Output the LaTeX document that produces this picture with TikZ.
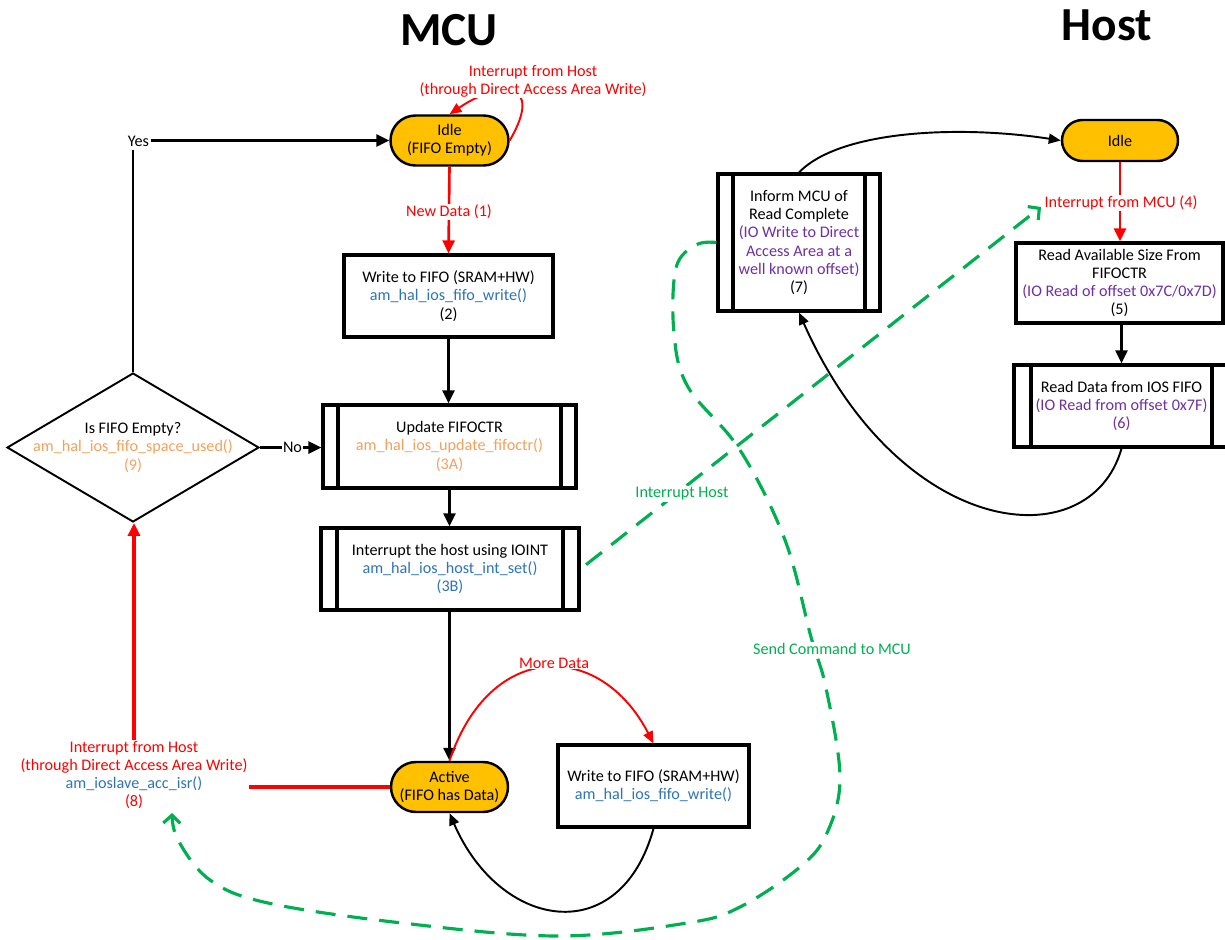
\documentclass[tikz,border=0pt]{standalone}
\usepackage{fontspec}
\setmainfont{Carlito}
\usetikzlibrary{arrows.meta,shapes.geometric}
\definecolor{orgfill}{HTML}{FFC000}
\definecolor{fnblue}{HTML}{2E75B6}
\definecolor{fnorange}{HTML}{F4A15D}
\definecolor{iopurple}{HTML}{7030A0}
\definecolor{sigred}{HTML}{FF0000}
\definecolor{cmdgreen}{HTML}{00B050}
\newcommand{\bodyfont}{\fontsize{9.2}{10.4}\selectfont}
\newcommand{\titlefont}{\fontsize{27}{30}\selectfont\bfseries}
\begin{document}
\begin{tikzpicture}[x=0.02cm,y=-0.02cm,
  every node/.style={font=\bodyfont, align=center},
  proc/.style={rectangle, draw, line width=1.8pt, inner sep=1pt},
  subproc/.style={proc, path picture={
     \draw[line width=1.8pt] ([xshift=#1]path picture bounding box.north west) -- ([xshift=#1]path picture bounding box.south west);
     \draw[line width=1.8pt] ([xshift=-#1]path picture bounding box.north east) -- ([xshift=-#1]path picture bounding box.south east);}},
  subproc/.default=0.3cm,
  term/.style={rectangle, rounded corners=#1, draw, line width=1.4pt, fill=orgfill, inner sep=1pt},
  decision/.style={diamond, draw, line width=1.1pt, inner sep=0pt, minimum width=5.04cm, minimum height=2.98cm},
  lbl/.style={fill=white, inner sep=0.6pt},
  arrb/.style={line width=1.5pt, -{Triangle[length=0.26cm,width=0.24cm]}},
  arrr/.style={arrb, color=sigred},
  lnr/.style={line width=2pt, color=sigred},
  crvb/.style={line width=1.1pt, -{Triangle[length=0.24cm,width=0.2cm]}},
  crvr/.style={crvb, color=sigred},
  gdash/.style={color=cmdgreen, line width=1.8pt, dash pattern=on 0.4cm off 0.24cm, -{Straight Barb[length=0.16cm,width=0.34cm]}}
]
\path[fill=white] (0,0) rectangle (1225,940);
\useasboundingbox (0,0) rectangle (1225,940);

% titles
\node[font=\titlefont] (tmcu) at (449,30) {MCU};
\node[font=\titlefont] (thost) at (1107,25) {Host};

% MCU side
\node[term=0.5cm, minimum width=2.36cm, minimum height=1.0cm] (idle) at (449.5,140.5) {Idle\\(FIFO Empty)};
\node[proc, minimum width=4.18cm, minimum height=1.64cm] (w1) at (448.5,296)
  {Write to FIFO (SRAM+HW)\\\textcolor{fnblue}{am\_hal\_ios\_fifo\_write()}\\(2)};
\node[subproc=0.3cm, minimum width=5.06cm, minimum height=1.66cm] (u3a) at (449.5,446.5)
  {Update FIFOCTR\\\textcolor{fnorange}{am\_hal\_ios\_update\_fifoctr()}\\\textcolor{fnorange}{(3A)}};
\node[subproc=0.32cm, minimum width=5.16cm, minimum height=1.64cm] (i3b) at (450,569)
  {Interrupt the host using IOINT\\\textcolor{fnblue}{am\_hal\_ios\_host\_int\_set()}\\\textcolor{fnblue}{(3B)}};
\node[term=0.5cm, minimum width=2.34cm, minimum height=1.0cm] (act) at (449.5,787) {Active\\(FIFO has Data)};
\node[proc, minimum width=3.82cm, minimum height=1.64cm] (w2) at (653.5,786)
  {Write to FIFO (SRAM+HW)\\\textcolor{fnblue}{am\_hal\_ios\_fifo\_write()}};
\node[decision] (dia) at (133,447.5) {};
\node (diatxt) at (dia.center) {Is FIFO Empty?\\\textcolor{fnorange}{am\_hal\_ios\_fifo\_space\_used()}\\\textcolor{fnorange}{(9)}};
\node[text=sigred, inner sep=0.6pt] (l8) at (134,775)
  {Interrupt from Host\\(through Direct Access Area Write)\\\textcolor{fnblue}{am\_ioslave\_acc\_isr()}\\(8)};

% Host side
\node[term=0.41cm, minimum width=2.32cm, minimum height=0.82cm] (hidle) at (1120,140.5) {Idle};
\node[proc, minimum width=4.14cm, minimum height=1.6cm] (r5) at (1119.5,283)
  {Read Available Size From\\FIFOCTR\\\textcolor{iopurple}{(IO Read of offset 0x7C/0x7D)}\\(5)};
\node[subproc=0.34cm, minimum width=4.3cm, minimum height=1.64cm] (r6) at (1121.5,406)
  {Read Data from IOS FIFO\\\textcolor{iopurple}{(IO Read from offset 0x7F)}\\\textcolor{iopurple}{(6)}};
\node[subproc=0.3cm, minimum width=3.24cm, minimum height=2.74cm] (inf7) at (799,242.5)
  {Inform MCU of\\Read Complete\\\textcolor{iopurple}{(IO Write to Direct}\\\textcolor{iopurple}{Access Area at a}\\\textcolor{iopurple}{well known offset)}\\(7)};
\coordinate (ih) at (1041,207);
\coordinate (g8) at (172,813);

% MCU connectors
\draw[crvr] (idle.east) .. controls (545,80) and (500,80) .. (idle.north);
\draw[arrr] (idle.south) -- (w1.north);
\draw[arrb] (w1.south) -- (w1.south |- u3a.north);
\draw[arrb] (u3a.south) -- (u3a.south |- i3b.north);
\draw[arrb] (i3b.south -| act.north) -- (act.north);
\draw[crvr] (act.north) .. controls (490,640) and (600,640) .. (w2.north);
\draw[crvb] (w2.south) .. controls (620,950) and (500,930) .. (act.south);
\draw[lnr] (act.west) -- (act.west -| l8.east);
\draw[lnr, -{Triangle[length=0.26cm,width=0.24cm]}] (l8.north) -- (l8.north |- dia.south);
\draw[arrb] (dia.north) |- (idle.west);
\draw[arrb] (dia.east) -- (dia.east -| u3a.west);

% Host connectors
\draw[arrr] (hidle.south) -- (hidle.south |- r5.north);
\draw[arrb] (r6.north |- r5.south) -- (r6.north);
\draw[crvb] (r6.south) .. controls (1090,560) and (900,540) .. (inf7.south);
\draw[crvb] (inf7.north) .. controls (840,130) and (960,125) .. (hidle.west);

% labels on connectors
\node[lbl, text=sigred] (lih) at (533,81) {Interrupt from Host\\(through Direct Access Area Write)};
\node[lbl, text=sigred] (lnd) at (449,212) {New Data (1)};
\node[lbl, text=sigred] (lmd) at (554,663) {More Data};
\node[lbl, text=sigred] (l4) at (1121,203) {Interrupt from MCU (4)};
\node[lbl, minimum width=0.5cm, minimum height=0.36cm] (lyes) at (138.5,141) {Yes};
\node[lbl] (lno) at (292.5,447) {No};

% green signals
\draw[gdash, shorten <=4pt] (i3b.east) -- (ih);
\draw[gdash] plot[smooth, tension=0.6] coordinates {(inf7.west) (696,245) (676,268) (674,333) (688,387) (740,450) (785,540) (811,637) (826,688) (840,777) (827,833) (800,867) (740,907) (687,923) (558,936) (402,923) (268,903) (210,880) (178,840) (g8)};
\node[lbl, text=cmdgreen] (lihost) at (682,494) {Interrupt Host};
\node[lbl, text=cmdgreen] (lsc) at (832,649) {Send Command to MCU};
\end{tikzpicture}
\end{document}
